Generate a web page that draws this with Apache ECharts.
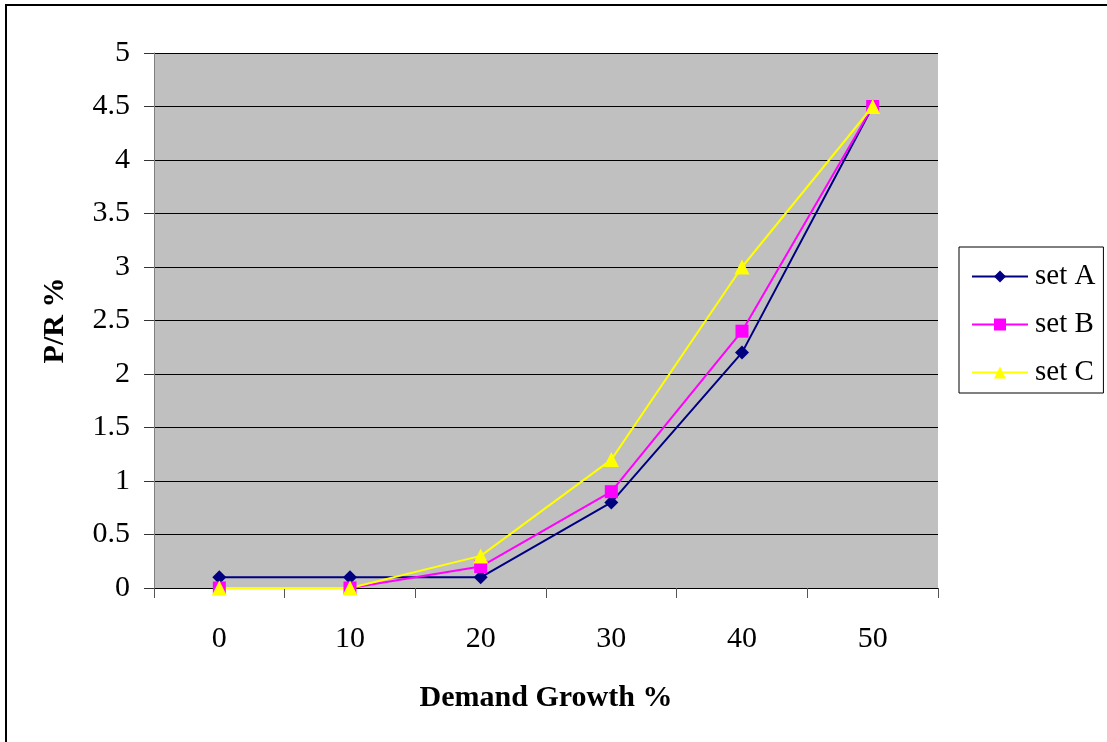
<!DOCTYPE html>
<html>
<head>
<meta charset="utf-8">
<script src="https://cdn.jsdelivr.net/npm/echarts@6/dist/echarts.min.js"></script>
<style>
  html, body { margin: 0; padding: 0; background: #fff; }
  #chart { width: 1107px; height: 742px; }
</style>
</head>
<body>
<div id="chart"></div>
<script>
// Demand growth categories (x axis)
const categories = ['0', '10', '20', '30', '40', '50'];
// P/R % for each parameter set
const setA = [0.1, 0.1, 0.1, 0.8, 2.2, 4.5];
const setB = [0, 0, 0.2, 0.9, 2.4, 4.5];
const setC = [0, 0, 0.3, 1.2, 3.0, 4.5];

const FONT = '"Liberation Serif", "Times New Roman", serif';

const chart = echarts.init(document.getElementById('chart'));
chart.setOption({
  backgroundColor: '#ffffff',
  animation: false,
  textStyle: { fontFamily: FONT, color: '#000' },
  graphic: [{
    type: 'rect',
    z: -1,
    shape: { x: 6, y: 5, width: 1200, height: 800 },
    style: { fill: 'none', stroke: '#000', lineWidth: 2 }
  }],
  grid: {
    left: 154, top: 53, right: 169, bottom: 154,
    show: true, backgroundColor: '#c0c0c0', borderWidth: 0
  },
  legend: {
    orient: 'vertical',
    left: 959, top: 247,
    padding: [15, 8, 6, 12],
    itemGap: 19,
    itemWidth: 56,
    itemHeight: 15,
    borderColor: '#000',
    borderWidth: 1,
    backgroundColor: '#fff',
    textStyle: { fontFamily: FONT, fontSize: 29, color: '#000', padding: [0, 0, 0, 2] },
    data: ['set A', 'set B', 'set C']
  },
  xAxis: {
    type: 'category',
    data: categories,
    boundaryGap: true,
    name: 'Demand Growth %',
    nameLocation: 'middle',
    nameGap: 95,
    nameTextStyle: { fontFamily: FONT, fontSize: 30, fontWeight: 'bold', color: '#000' },
    axisLine: { lineStyle: { color: '#000', width: 1 } },
    axisTick: { show: true, length: 10, inside: false, lineStyle: { color: '#555' } },
    axisLabel: { fontFamily: FONT, fontSize: 30, color: '#000', margin: 36 },
    splitLine: { show: false }
  },
  yAxis: {
    type: 'value',
    min: 0, max: 5, interval: 0.5,
    name: 'P/R %',
    nameLocation: 'middle',
    nameGap: 84,
    nameTextStyle: { fontFamily: FONT, fontSize: 30, fontWeight: 'bold', color: '#000' },
    axisLine: { show: true, lineStyle: { color: '#808080', width: 1 } },
    axisTick: { show: true, length: 10, inside: false, lineStyle: { color: '#333' } },
    axisLabel: { fontFamily: FONT, fontSize: 30, color: '#000', margin: 24 },
    splitLine: { show: true, lineStyle: { color: '#000', width: 1 } }
  },
  series: [
    {
      name: 'set A', type: 'line', data: setA,
      symbol: 'diamond', symbolSize: 14,
      lineStyle: { color: '#000080', width: 2 },
      itemStyle: { color: '#000080' }
    },
    {
      name: 'set B', type: 'line', data: setB,
      symbol: 'rect', symbolSize: 13,
      lineStyle: { color: '#ff00ff', width: 2 },
      itemStyle: { color: '#ff00ff' }
    },
    {
      name: 'set C', type: 'line', data: setC,
      symbol: 'triangle', symbolSize: 15,
      lineStyle: { color: '#ffff00', width: 2 },
      itemStyle: { color: '#ffff00' }
    }
  ]
});
</script>
</body>
</html>
